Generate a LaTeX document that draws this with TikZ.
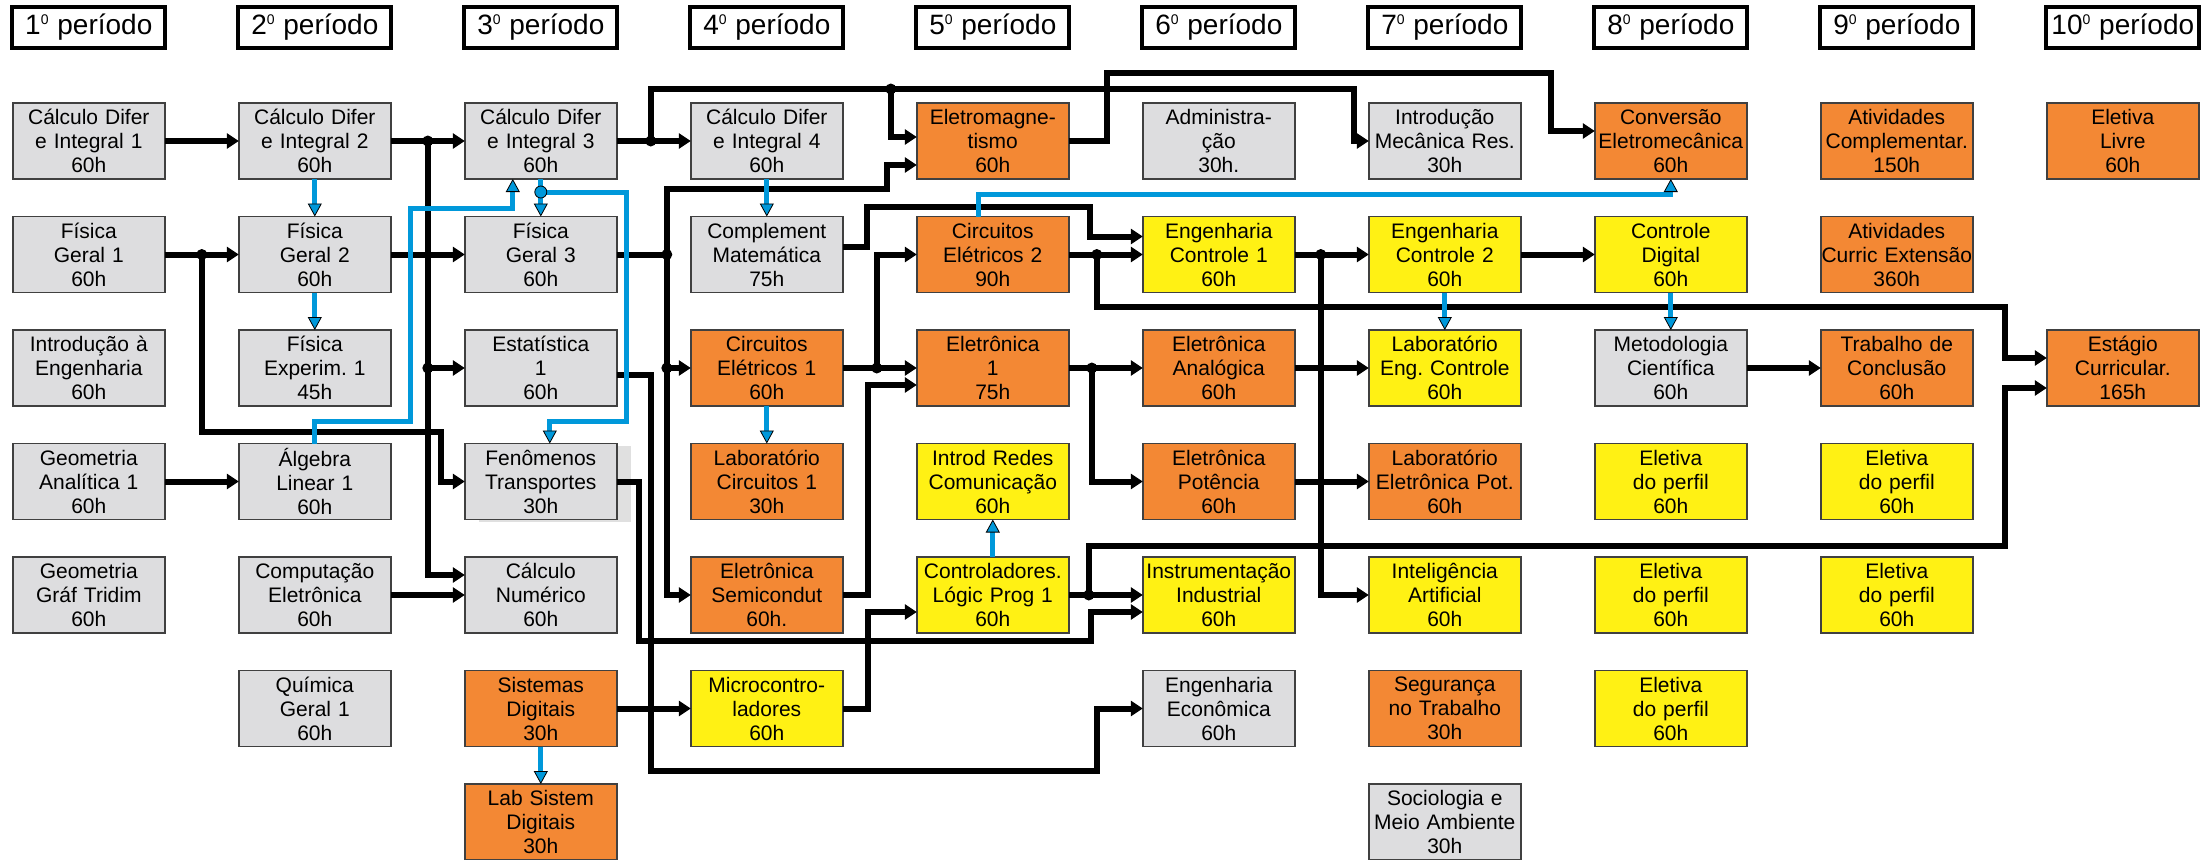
\documentclass[tikz,border=0pt]{standalone}
\usepackage{fontspec}
\setmainfont{Liberation Sans}
\usepackage{xcolor}
\usepackage{tikz}
\usetikzlibrary{positioning, arrows.meta, calc, shadows}
\frenchspacing

\definecolor{cinza}{RGB}{221,221,223}
\definecolor{laranja}{RGB}{243,136,52}
\definecolor{amarelo}{RGB}{255,241,20}
\definecolor{azul}{RGB}{0,152,218}

\begin{document}
\begin{tikzpicture}[node distance=18.75pt and 37pt,
      box/.style={draw=black!75, line width=0.75pt, text width=76pt, inner sep=0pt, outer sep=0pt, minimum height=38pt, align=center, font=\fontsize{10.5}{12}\selectfont},
      basic/.style={box, fill=cinza},
      prof/.style={box, fill=laranja},
      espec/.style={box, fill=amarelo},
      head/.style={draw, line width=2pt, fill=white, minimum width=76.5pt, minimum height=20.5pt, inner sep=0pt, outer sep=0pt, font=\fontsize{14}{16}\selectfont},
      wire/.style={line width=3pt},
      link/.style={wire, -{Triangle[length=6pt, width=7.5pt]}},
      blink/.style={azul, line width=2.5pt, -{Triangle[length=6.5pt, width=7pt, fill=azul, color=black, line width=0.4pt]}}]

    \useasboundingbox (0,0) rectangle (1104pt,-429.5pt);

    \node[head] (h1) at (44.4pt,-13.75pt) {1\textsuperscript{\fontsize{7}{7}\selectfont 0} período};
    \node[head, right=36.5pt of h1] (h2) {2\textsuperscript{\fontsize{7}{7}\selectfont 0} período};
    \node[head, right=36.5pt of h2] (h3) {3\textsuperscript{\fontsize{7}{7}\selectfont 0} período};
    \node[head, right=36.5pt of h3] (h4) {4\textsuperscript{\fontsize{7}{7}\selectfont 0} período};
    \node[head, right=36.5pt of h4] (h5) {5\textsuperscript{\fontsize{7}{7}\selectfont 0} período};
    \node[head, right=36.5pt of h5] (h6) {6\textsuperscript{\fontsize{7}{7}\selectfont 0} período};
    \node[head, right=36.5pt of h6] (h7) {7\textsuperscript{\fontsize{7}{7}\selectfont 0} período};
    \node[head, right=36.5pt of h7] (h8) {8\textsuperscript{\fontsize{7}{7}\selectfont 0} período};
    \node[head, right=36.5pt of h8] (h9) {9\textsuperscript{\fontsize{7}{7}\selectfont 0} período};
    \node[head, right=36.5pt of h9] (h10) {10\textsuperscript{\fontsize{7}{7}\selectfont 0} período};

    \node[basic, below=27.5pt of h1] (calc1) {Cálculo Difer\\e Integral 1\\60h};
    \node[basic, below=of calc1] (fis1) {Física\\Geral 1\\60h};
    \node[basic, below=of fis1] (intro) {Introdução à\\Engenharia\\60h};
    \node[basic, below=of intro] (geoan) {Geometria\\Analítica 1\\60h};
    \node[basic, below=of geoan] (geograf) {Geometria\\Gráf Tridim\\60h};

    \node[basic, below=27.5pt of h2] (calc2) {Cálculo Difer\\e Integral 2\\60h};
    \node[basic, below=of calc2] (fis2) {Física\\Geral 2\\60h};
    \node[basic, below=of fis2] (fisexp) {Física\\Experim. 1\\45h};
    \node[basic, below=of fisexp] (alg) {Álgebra\\Linear 1\\60h};
    \node[basic, below=of alg] (comp) {Computação\\Eletrônica\\60h};
    \node[basic, below=of comp] (quim) {Química\\Geral 1\\60h};

    \node[basic, below=27.5pt of h3] (calc3) {Cálculo Difer\\e Integral 3\\60h};
    \node[basic, below=of calc3] (fis3) {Física\\Geral 3\\60h};
    \node[basic, below=of fis3] (est) {Estatística\\1\\60h};
    \node[basic, below=of est, drop shadow={shadow xshift=7pt, shadow yshift=-1pt, fill=black!12, opacity=1}] (fen) {Fenômenos\\Transportes\\30h};
    \node[basic, below=of fen] (calcnum) {Cálculo\\Numérico\\60h};
    \node[prof, below=of calcnum] (sisdig) {Sistemas\\Digitais\\30h};
    \node[prof, below=of sisdig] (labsd) {Lab Sistem\\Digitais\\30h};

    \node[basic, below=27.5pt of h4] (calc4) {Cálculo Difer\\e Integral 4\\60h};
    \node[basic, below=of calc4] (compmat) {Complement\\Matemática\\75h};
    \node[prof, below=of compmat] (circ1) {Circuitos\\Elétricos 1\\60h};
    \node[prof, below=of circ1] (labcirc) {Laboratório\\Circuitos 1\\30h};
    \node[prof, below=of labcirc] (semi) {Eletrônica\\Semicondut\\60h.};
    \node[espec, below=of semi] (micro) {Microcontro-\\ladores\\60h};

    \node[prof, below=27.5pt of h5] (eletromag) {Eletromagne-\\tismo\\60h};
    \node[prof, below=of eletromag] (circ2) {Circuitos\\Elétricos 2\\90h};
    \node[prof, below=of circ2] (eletr1) {Eletrônica\\1\\75h};
    \node[espec, below=of eletr1] (redes) {Introd Redes\\Comunicação\\60h};
    \node[espec, below=of redes] (clp) {Controladores.\\Lógic Prog 1\\60h};

    \node[basic, below=27.5pt of h6] (adm) {Administra-\\ção\\30h.};
    \node[espec, below=of adm] (ctrl1) {Engenharia\\Controle 1\\60h};
    \node[prof, below=of ctrl1] (analog) {Eletrônica\\Analógica\\60h};
    \node[prof, below=of analog] (potencia) {Eletrônica\\Potência\\60h};
    \node[espec, below=of potencia] (instr) {Instrumentação\\Industrial\\60h};
    \node[basic, below=of instr] (engecon) {Engenharia\\Econômica\\60h};

    \node[basic, below=27.5pt of h7] (intromec) {Introdução\\Mecânica Res.\\30h};
    \node[espec, below=of intromec] (ctrl2) {Engenharia\\Controle 2\\60h};
    \node[espec, below=of ctrl2] (labctrl) {Laboratório\\Eng. Controle\\60h};
    \node[prof, below=of labctrl] (labpot) {Laboratório\\Eletrônica Pot.\\60h};
    \node[espec, below=of labpot] (ia) {Inteligência\\Artificial\\60h};
    \node[prof, below=of ia] (seg) {Segurança\\no Trabalho\\30h};
    \node[basic, below=of seg] (socio) {Sociologia e\\Meio Ambiente\\30h};

    \node[prof, below=27.5pt of h8] (conv) {Conversão\\Eletromecânica\\60h};
    \node[espec, below=of conv] (ctrldig) {Controle\\Digital\\60h};
    \node[basic, below=of ctrldig] (metod) {Metodologia\\Científica\\60h};
    \node[espec, below=of metod] (elet8a) {Eletiva\\do perfil\\60h};
    \node[espec, below=of elet8a] (elet8b) {Eletiva\\do perfil\\60h};
    \node[espec, below=of elet8b] (elet8c) {Eletiva\\do perfil\\60h};

    \node[prof, below=27.5pt of h9] (ativ) {Atividades\\Complementar.\\150h};
    \node[prof, below=of ativ] (extensao) {Atividades\\Curric Extensão\\360h};
    \node[prof, below=of extensao] (tcc) {Trabalho de\\Conclusão\\60h};
    \node[espec, below=of tcc] (elet9a) {Eletiva\\do perfil\\60h};
    \node[espec, below=of elet9a] (elet9b) {Eletiva\\do perfil\\60h};

    \node[prof, below=27.5pt of h10] (livre) {Eletiva\\Livre\\60h};
    \node[prof, right=of tcc] (estagio) {Estágio\\Curricular.\\165h};

    \coordinate (j1) at ($(fis1.east)!0.5!(fis2.west)$);
    \coordinate (j2) at ($(calc2.east)!0.5!(calc3.west)$);
    \coordinate (j3) at ([xshift=17pt]calc3.east);
    \coordinate (j4) at ($(eletromag.west |- calc4.north)+(-13pt,7pt)$);
    \coordinate (j5) at ([xshift=25pt]fis3.east);
    \coordinate (j6) at ([xshift=14pt]circ2.east);
    \coordinate (j7) at ([xshift=17pt]circ1.east);
    \coordinate (j8) at ([xshift=10pt]clp.east);
    \coordinate (j9) at ([xshift=11.5pt]eletr1.east);
    \coordinate (j10) at ([xshift=13pt]ctrl1.east);
    \coordinate (bj) at ([yshift=-6.5pt]calc3.south);

    \draw[link] (calc1) -- (calc2);
    \draw[link] (calc2) -- (calc3);
    \draw[link] (calc3) -- (calc4);
    \draw[link] (fis1) -- (fis2);
    \draw[link] (fis2) -- (fis3);
    \draw[link] (geoan) -- (alg);
    \draw[link] (comp) -- (calcnum);
    \draw[link] (sisdig) -- (micro);
    \draw[link] (j2) |- (est.west);
    \draw[link] (j2) |- ([yshift=10pt]calcnum.west);
    \draw[link] (j1) |- ([yshift=6pt]alg.north) -| ([xshift=-12pt]fen.west) -- (fen.west);
    \draw[link] (j3) |- (j4) -| ([xshift=-7.5pt]intromec.west) -- (intromec.west);
    \draw[link] (j4) |- ([yshift=2pt]eletromag.west);
    \draw[link] (eletromag.east) -- ++(19pt,0) |- ($(conv.west |- calc4.north)+(-22pt,15pt)$) |- ([yshift=5pt]conv.west);
    \draw[wire] (fis3) -- (j5);
    \draw[link] (j5) |- ($(eletromag.west |- compmat.north)+(-15pt,14pt)$) |- ([yshift=-12pt]eletromag.west);
    \draw[link] (j5) |- (circ1.west);
    \draw[link] (j5) |- (semi.west);
    \draw[link] ([yshift=-3.5pt]est.east) -- ++(17pt,0) |- ($(engecon.west |- micro.south)+(-23pt,-12pt)$) |- (engecon.west);
    \draw[link] (fen.east) -- ++(11pt,0) |- ($(instr.west |- semi.south)+(-26pt,-4pt)$) |- ([yshift=-8.5pt]instr.west);
    \draw[link] ([yshift=3.75pt]compmat.east) -- ++(12pt,0) |- ($(ctrl1.north west)+(-26.5pt,4.75pt)$) |- ([yshift=9pt]ctrl1.west);
    \draw[link] (circ2) -- (ctrl1);
    \draw[link] (j6) |- ($(estagio.west |- ctrl1.south)+(-21pt,-7.25pt)$) |- ([yshift=5pt]estagio.west);
    \draw[link] (circ1) -- (eletr1);
    \draw[link] (j7) |- (circ2.west);
    \draw[link] (semi.east) -- ++(12.5pt,0) |- ([yshift=-8.5pt]eletr1.west);
    \draw[link] (micro.east) -- ++(12.5pt,0) |- ([yshift=-8.5pt]clp.west);
    \draw[link] (clp) -- (instr);
    \draw[link] (j8) |- ($(estagio.west |- potencia.south)+(-21pt,-13pt)$) |- ([yshift=-10pt]estagio.west);
    \draw[link] (eletr1) -- (analog);
    \draw[link] (j9) |- (potencia.west);
    \draw[link] (ctrl1) -- (ctrl2);
    \draw[link] (j10) |- (ia.west);
    \draw[link] (analog) -- (labctrl);
    \draw[link] (potencia) -- (labpot);
    \draw[link] (ctrl2) -- (ctrldig);
    \draw[link] (metod) -- (tcc);

    \fill (j1) circle (2.75pt) (j2) circle (2.75pt) (j2 |- est.west) circle (2.75pt)
          (j3) circle (2.75pt) (j4) circle (2.75pt) (j5) circle (2.75pt) (j5 |- circ1.west) circle (2.75pt)
          (j6) circle (2.75pt) (j7) circle (2.75pt) (j8) circle (2.75pt) (j9) circle (2.75pt) (j10) circle (2.75pt);

    \draw[blink] (calc2) -- (fis2);
    \draw[blink] (fis2) -- (fisexp);
    \draw[blink] (calc3) -- (fis3);
    \draw[blink] (calc4) -- (compmat);
    \draw[blink] (circ1) -- (labcirc);
    \draw[blink] (clp) -- (redes);
    \draw[blink] (ctrl2) -- (labctrl);
    \draw[blink] (ctrldig) -- (metod);
    \draw[blink] (sisdig) -- (labsd);
    \draw[blink] (alg.north) |- ($(fis2.east |- alg.north)+(10pt,11.25pt)$) |- ($(calc3.south)+(-14pt,-14.5pt)$) -- ([xshift=-14pt]calc3.south);
    \draw[blink] (bj) -| ($(calc3.east |- fen.north)+(5pt,11.25pt)$) -| ([xshift=4.5pt]fen.north);
    \draw[blink] ([xshift=-7pt]circ2.north) |- ($(conv.south)+(0,-7.5pt)$) -- (conv.south);
    \filldraw[fill=azul, draw=black, line width=0.4pt] (bj) circle (3pt);
\end{tikzpicture}
\end{document}
